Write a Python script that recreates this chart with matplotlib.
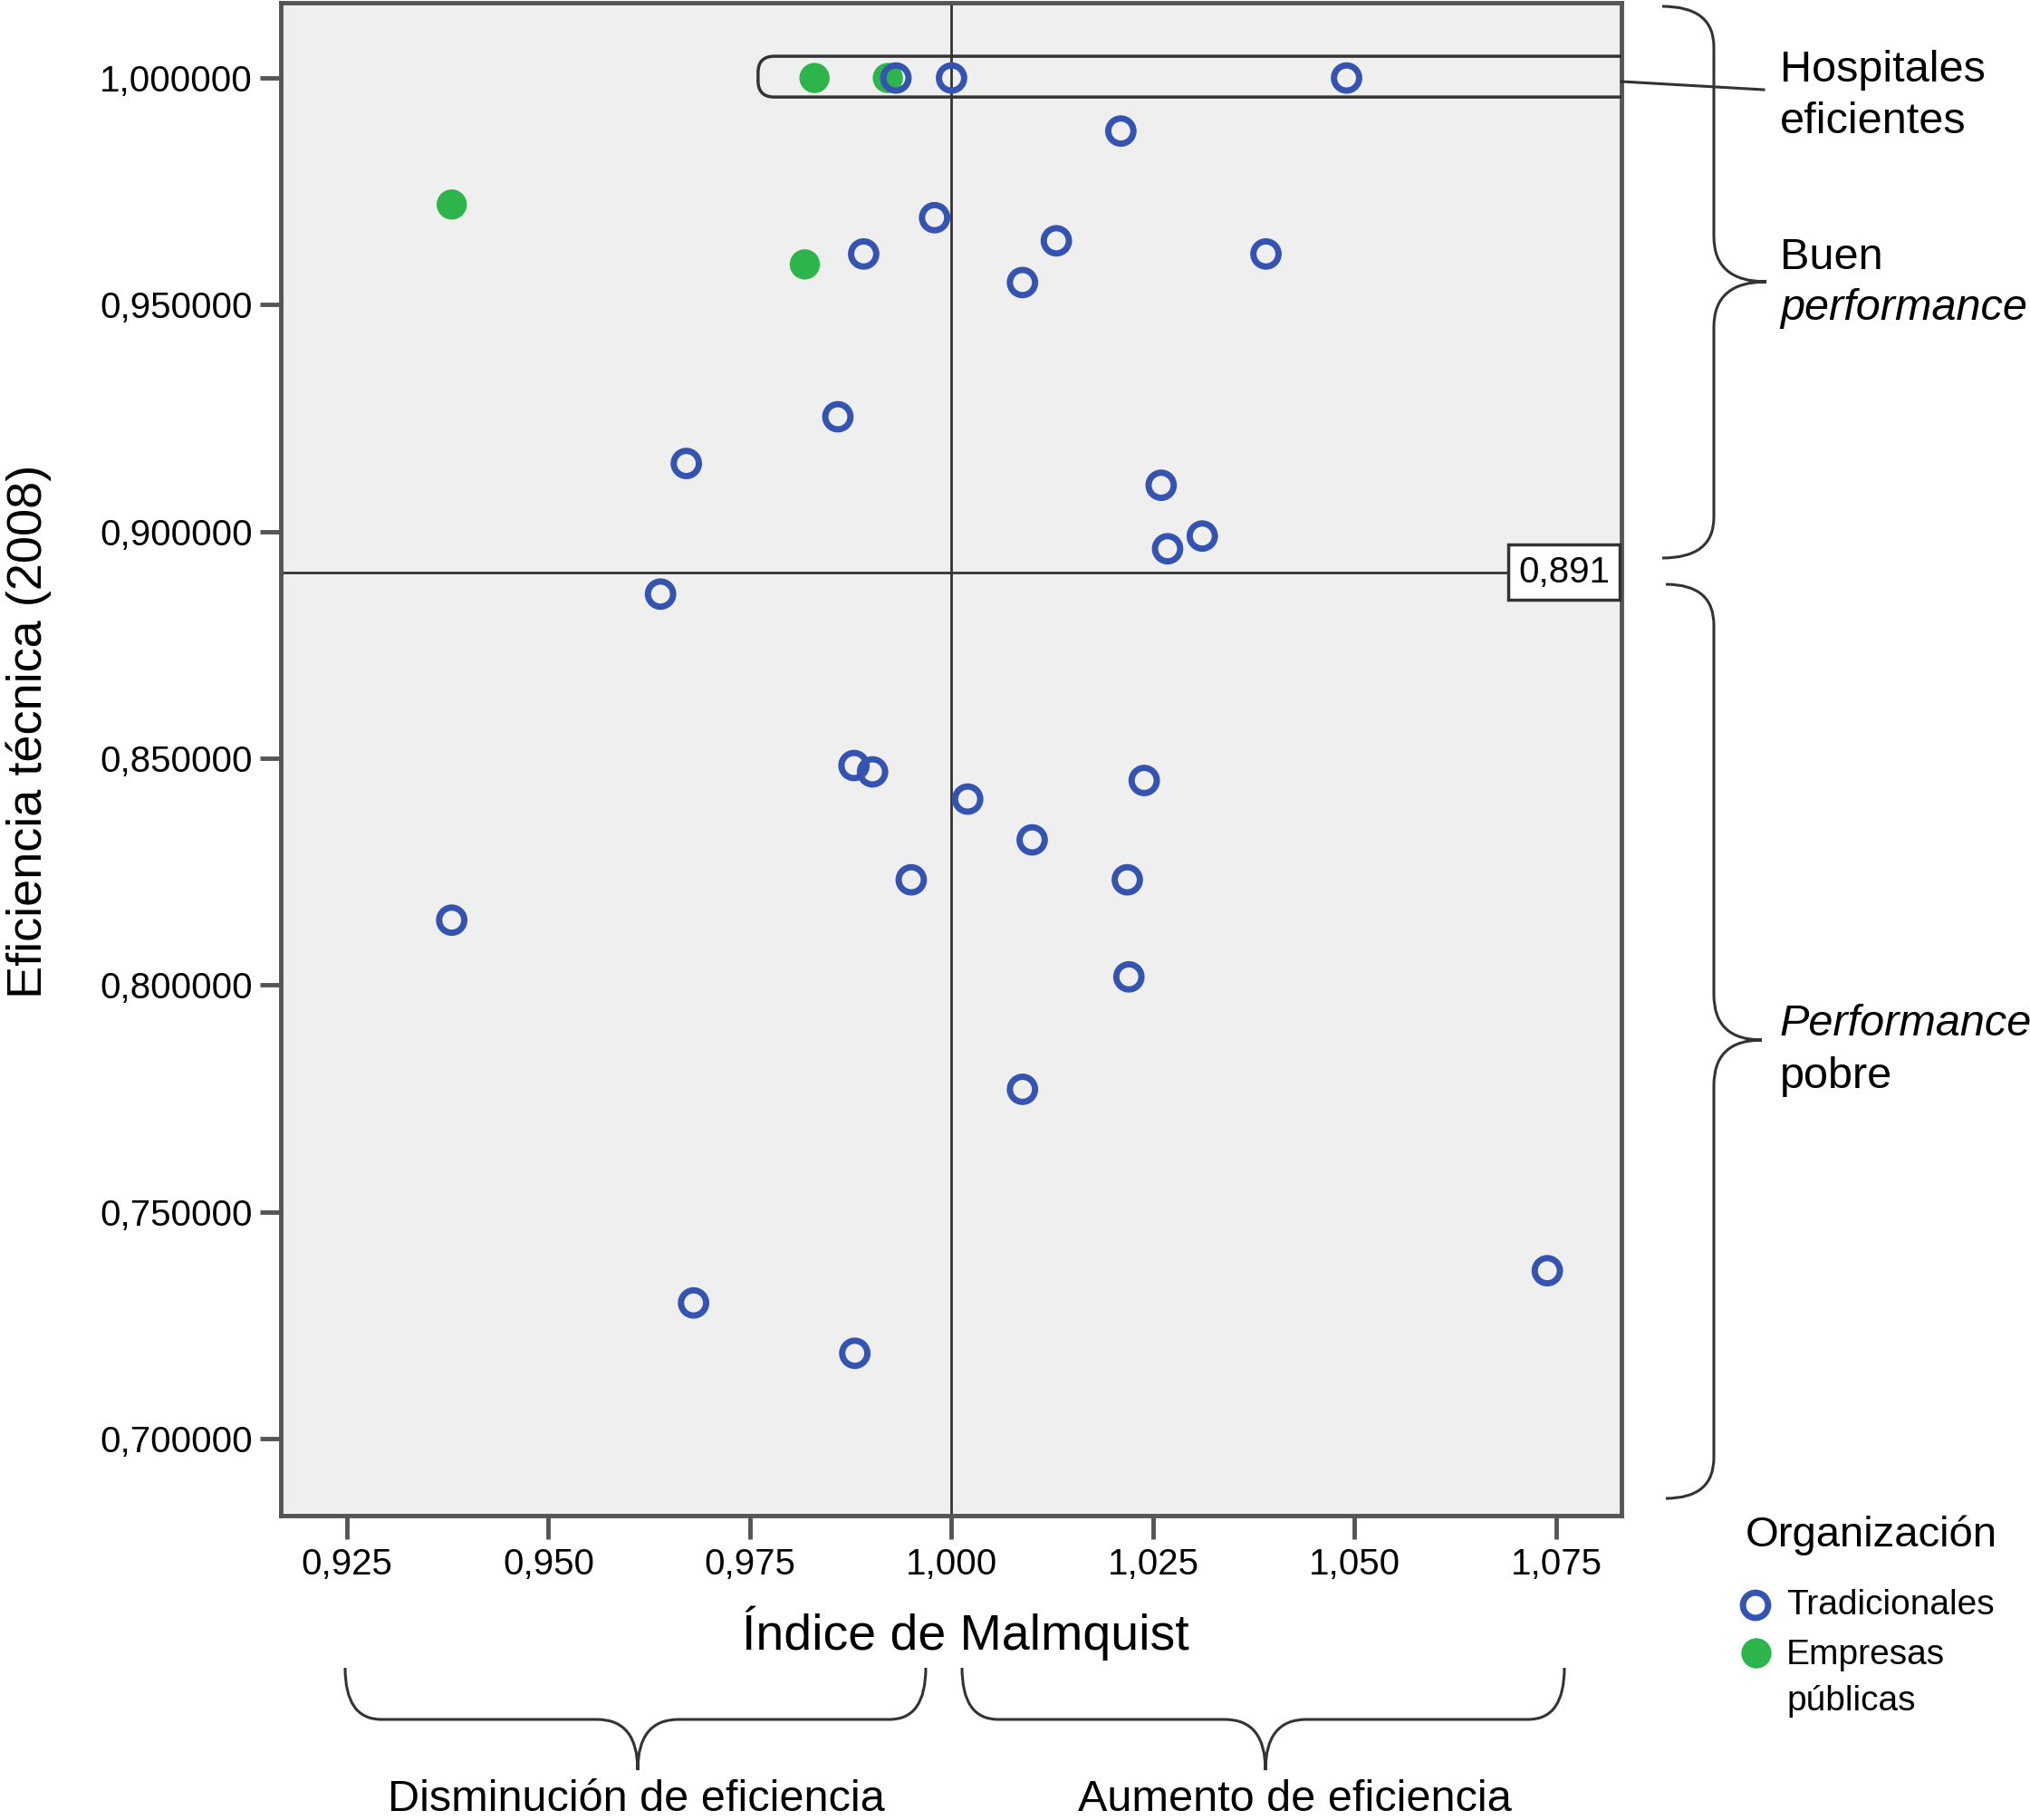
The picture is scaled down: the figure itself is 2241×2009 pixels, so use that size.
import numpy as np
import matplotlib.pyplot as plt
from matplotlib.patches import FancyBboxPatch, PathPatch
from matplotlib.path import Path

plt.rcParams['font.family'] = ['Liberation Sans', 'DejaVu Sans']

# datos
trad_x = [0.9931, 1.0000, 1.0490, 1.0210, 0.9979, 0.9891, 1.0130, 1.0390, 1.0088,
          0.9859, 0.9671, 1.0260, 1.0311, 1.0268, 0.9639, 0.9879, 0.9902, 1.0020,
          1.0239, 1.0100, 0.9950, 1.0218, 0.9380, 1.0220, 1.0088, 1.0739, 0.9680, 0.9880]
trad_y = [1.0000, 1.0000, 1.0000, 0.9883, 0.9692, 0.9612, 0.9641, 0.9612, 0.9549,
          0.9253, 0.9150, 0.9102, 0.8990, 0.8962, 0.8862, 0.8484, 0.8470, 0.8410,
          0.8451, 0.8320, 0.8232, 0.8232, 0.8143, 0.8018, 0.7770, 0.7370, 0.7299, 0.7188]
emp_x = [0.9830, 0.9921, 0.9380, 0.9818]
emp_y = [1.0000, 1.0000, 0.9721, 0.9589]

cut_y = 0.891
cut_x = 1.000
xticks = [0.925, 0.950, 0.975, 1.000, 1.025, 1.050, 1.075]
yticks = [0.70, 0.75, 0.80, 0.85, 0.90, 0.95, 1.00]

blue = '#3553b0'
green = '#2db44a'
dark = '#333333'

W, H = 2241, 2009
fig = plt.figure(figsize=(W / 100, H / 100), dpi=100)
ax = fig.add_axes([310 / W, 1 - 1673 / H, 1480 / W, 1670 / H])
ax.set_facecolor('#efefef')
ax.set_xlim(0.9168, 1.0831)
ax.set_ylim(0.6830, 1.0166)

ax.set_xticks(xticks)
ax.set_xticklabels([f"{v:.3f}".replace('.', ',') for v in xticks])
ax.set_yticks(yticks)
ax.set_yticklabels([f"{v:.6f}".replace('.', ',') for v in yticks])
ax.tick_params(axis='x', direction='out', length=19, width=3.5, color='#555555',
               labelsize=29, pad=6)
ax.tick_params(axis='y', direction='out', length=16.5, width=3.5, color='#555555',
               labelsize=29, pad=6)
for s in ax.spines.values():
    s.set_color('#555555')
    s.set_linewidth(3.5)

ax.axvline(cut_x, color=dark, lw=2, zorder=2)
ax.axhline(cut_y, color=dark, lw=2, zorder=2)

ax.scatter(emp_x, emp_y, s=24 ** 2, c=green, edgecolors='none', zorder=3)
ax.scatter(trad_x, trad_y, s=20 ** 2, facecolors='none', edgecolors=blue,
           linewidths=5, zorder=4)

# marco alrededor de los hospitales eficientes (recortado por el borde derecho)
xpp = 0.025 / 222.5
ypp = 0.05 / 250.33
pill = FancyBboxPatch((0.9760, 0.9958), 1.0900 - 0.9760, 1.0048 - 0.9958,
                      boxstyle=f"round,pad=0,rounding_size={18 * xpp}",
                      mutation_aspect=ypp / xpp, fc='none', ec=dark, lw=2.5, zorder=5)
ax.add_patch(pill)

ax.annotate(f"{cut_y:.3f}".replace('.', ','), xy=(1, cut_y),
            xycoords=('axes fraction', 'data'), xytext=(-13, 0),
            textcoords='offset pixels', ha='right', va='center', fontsize=29,
            bbox=dict(boxstyle='square,pad=0.28', fc='white', ec=dark, lw=2.5),
            zorder=6)

# capa de anotaciones en pixeles
ov = fig.add_axes([0, 0, 1, 1], facecolor='none')
ov.set_xlim(0, W)
ov.set_ylim(H, 0)
ov.axis('off')


def brace(a0, a1, at, b0, bm, bt, r=45, rt=50, vertical=True):
    pts = [(b0, a0), (bm, a0), (bm, a0 + r),
           (bm, at - rt), (bm, at), (bt, at),
           (bm, at), (bm, at + rt),
           (bm, a1 - r), (bm, a1), (b0, a1)]
    if not vertical:
        pts = [(p[1], p[0]) for p in pts]
    codes = [Path.MOVETO, Path.CURVE3, Path.CURVE3,
             Path.LINETO, Path.CURVE3, Path.CURVE3,
             Path.CURVE3, Path.CURVE3,
             Path.LINETO, Path.CURVE3, Path.CURVE3]
    ov.add_patch(PathPatch(Path(pts, codes), fc='none', ec=dark, lw=2.2))


brace(7, 616, 311, 1835, 1892, 1950)
brace(645, 1654, 1148, 1839, 1892, 1945)
brace(381, 1022, 704, 1841, 1898, 1954, r=40, rt=45, vertical=False)
brace(1062, 1727, 1397, 1841, 1898, 1954, r=40, rt=45, vertical=False)

ov.plot([1790, 1947], [90, 99], color=dark, lw=2.2)

fs = 35
ov.text(1965, 90, 'Hospitales', fontsize=fs, va='baseline')
ov.text(1965, 147, 'eficientes', fontsize=fs, va='baseline')
ov.text(1965, 297, 'Buen', fontsize=fs, va='baseline')
ov.text(1965, 353, 'performance', fontsize=fs, va='baseline', style='italic')
ov.text(1965, 1143, 'Performance', fontsize=fs, va='baseline', style='italic')
ov.text(1965, 1201, 'pobre', fontsize=fs, va='baseline')

ov.text(702, 1999, 'Disminución de eficiencia', fontsize=fs, ha='center', va='baseline')
ov.text(1429, 1999, 'Aumento de eficiencia', fontsize=fs, ha='center', va='baseline')

ov.text(1066, 1821, 'Índice de Malmquist', fontsize=40, ha='center', va='baseline')
ov.text(32, 807, 'Eficiencia técnica (2008)', fontsize=39, ha='center', va='center',
        rotation=90)

# leyenda
ov.text(1927, 1707, 'Organización', fontsize=34, va='baseline')
ov.scatter([1938], [1772], s=20 ** 2, facecolors='none', edgecolors=blue, linewidths=5)
ov.scatter([1939], [1825], s=24 ** 2, c=green, edgecolors='none')
ov.text(1972, 1782, 'Tradicionales', fontsize=28, va='baseline')
ov.text(1972, 1837, 'Empresas', fontsize=28, va='baseline')
ov.text(1972, 1888, 'públicas', fontsize=28, va='baseline')

fig.savefig('out.png', dpi=100)
